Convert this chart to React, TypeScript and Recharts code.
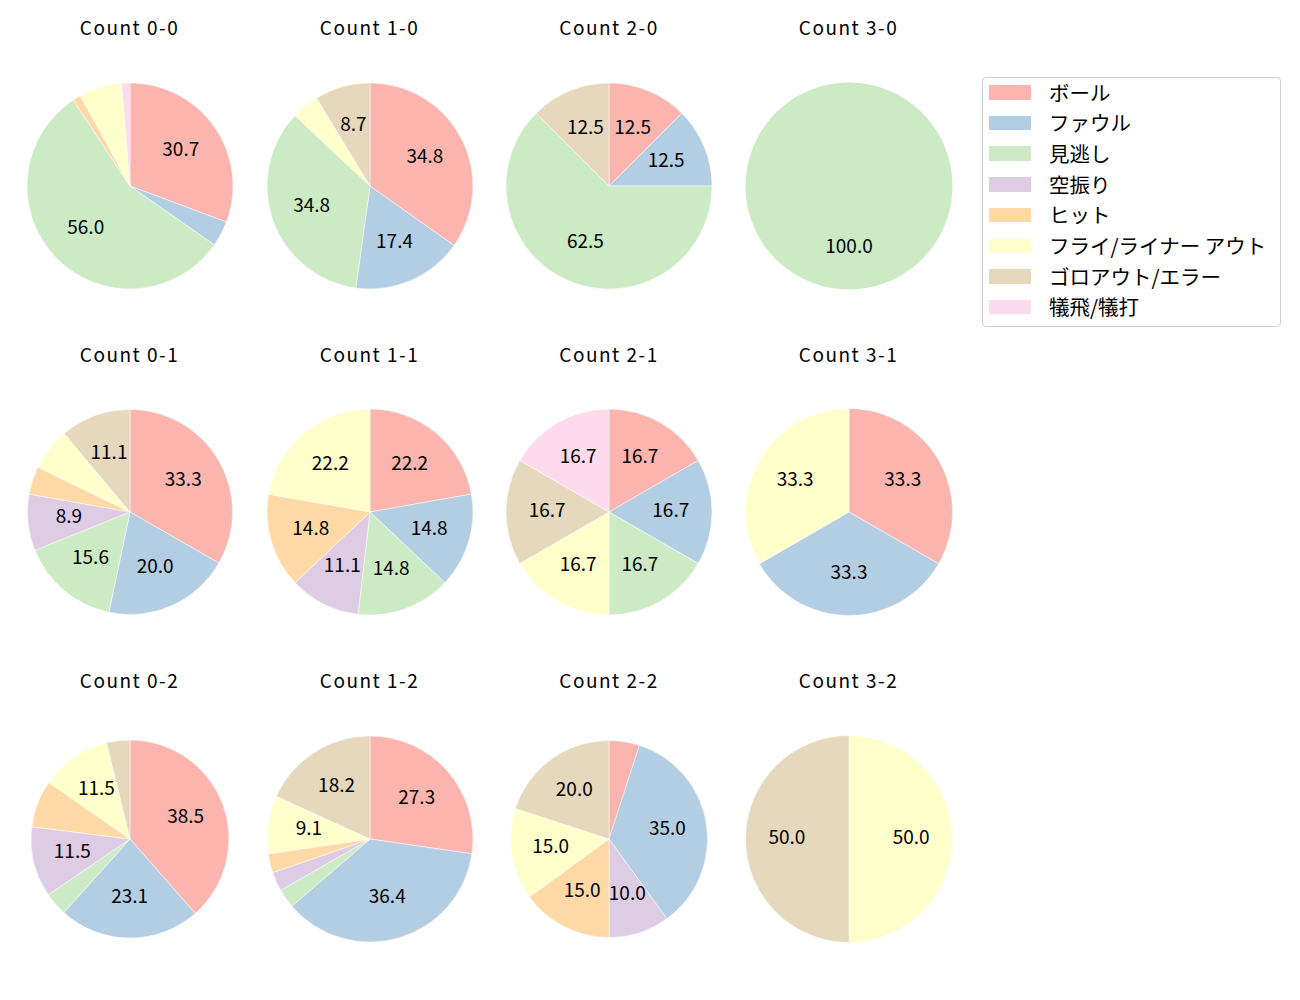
import React from 'react';
import { PieChart, Pie, Cell } from 'recharts';

const categories = ['ボール', 'ファウル', '見逃し', '空振り', 'ヒット', 'フライ/ライナー アウト', 'ゴロアウト/エラー', '犠飛/犠打'];
const colors = ['#fbb4ae', '#b3cde3', '#ccebc5', '#decbe4', '#fed9a6', '#ffffcc', '#e5d8bd', '#fddaec'];

const panelTitles = [
  'Count 0-0', 'Count 1-0', 'Count 2-0', 'Count 3-0',
  'Count 0-1', 'Count 1-1', 'Count 2-1', 'Count 3-1',
  'Count 0-2', 'Count 1-2', 'Count 2-2', 'Count 3-2',
];

// percentages per category (order as categories)
const count00 = [30.7, 4.0, 56.0, 0, 1.3, 6.7, 0, 1.3];
const count10 = [34.8, 17.4, 34.8, 0, 0, 4.3, 8.7, 0];
const count20 = [12.5, 12.5, 62.5, 0, 0, 0, 12.5, 0];
const count30 = [0, 0, 100.0, 0, 0, 0, 0, 0];
const count01 = [33.3, 20.0, 15.6, 8.9, 4.4, 6.7, 11.1, 0];
const count11 = [22.2, 14.8, 14.8, 11.1, 14.8, 22.2, 0, 0];
const count21 = [16.7, 16.7, 16.7, 0, 0, 16.7, 16.7, 16.7];
const count31 = [33.3, 33.3, 0, 0, 0, 33.3, 0, 0];
const count02 = [38.5, 23.1, 3.8, 11.5, 7.7, 11.5, 3.8, 0];
const count12 = [27.3, 36.4, 3.0, 3.0, 3.0, 9.1, 18.2, 0];
const count22 = [5.0, 35.0, 0, 10.0, 15.0, 15.0, 20.0, 0];
const count32 = [0, 0, 0, 0, 0, 50.0, 50.0, 0];

const panelValues = [
  count00, count10, count20, count30,
  count01, count11, count21, count31,
  count02, count12, count22, count32,
];

// layout
const colX = [129.5, 369.5, 609, 848.5];
const rowY = [185.5, 512, 838.5];
const titleY = [28.5, 355.5, 682];
const radii = [103, 103, 103, 103.5, 102.5, 103, 103, 103.5, 99, 103, 98.5, 103.5];
const BOX = 240;
const FONT = '"Noto Sans CJK JP", "Noto Sans", sans-serif';
const RAD = Math.PI / 180;
const LABEL_SIZE = 19;

const renderLabel = (props: any) => {
  const { cx, cy, midAngle, outerRadius, value } = props;
  if (value < 8) return null;
  const r = outerRadius * 0.6;
  const x = cx + r * Math.cos(-midAngle * RAD);
  const y = cy + r * Math.sin(-midAngle * RAD);
  return (
    <text x={x} y={y + 5} textAnchor="middle" fontSize={LABEL_SIZE} fill="#000" fontFamily={FONT}>
      {Number(value).toFixed(1)}
    </text>
  );
};

function Panel({ idx }: { idx: number }) {
  const col = idx % 4;
  const row = Math.floor(idx / 4);
  const cx = colX[col];
  const cy = rowY[row];
  const data = panelValues[idx]
    .map((v, i) => ({ name: categories[i], value: v, color: colors[i] }))
    .filter((d) => d.value > 0);
  const single = data.length === 1;
  return (
    <>
      <div
        style={{
          position: 'absolute',
          left: cx - 120,
          top: titleY[row] - 17,
          width: 240,
          height: 30,
          lineHeight: '30px',
          textAlign: 'center',
          fontFamily: FONT,
          fontSize: 19,
          letterSpacing: 1.5,
          color: '#000',
        }}
      >
        {panelTitles[idx]}
      </div>
      <div style={{ position: 'absolute', left: cx - BOX / 2, top: cy - BOX / 2, width: BOX, height: BOX }}>
        <PieChart width={BOX} height={BOX} margin={{ top: 0, right: 0, bottom: 0, left: 0 }}>
          <Pie
            data={data}
            dataKey="value"
            nameKey="name"
            cx={BOX / 2}
            cy={BOX / 2}
            outerRadius={radii[idx]}
            startAngle={90}
            endAngle={-270}
            stroke={single ? 'none' : '#ffffff'}
            strokeWidth={single ? 0 : 0.5}
            label={renderLabel}
            labelLine={false}
            isAnimationActive={false}
          >
            {data.map((d) => (
              <Cell key={d.name} fill={d.color} stroke={single ? 'none' : '#ffffff'} />
            ))}
          </Pie>
        </PieChart>
      </div>
    </>
  );
}

export default function App() {
  return (
    <div style={{ position: 'absolute', left: 0, top: 0, width: 1300, height: 1000, background: '#fff', fontFamily: FONT }}>
      {panelTitles.map((_, i) => (
        <Panel key={i} idx={i} />
      ))}
      <div
        style={{
          position: 'absolute',
          left: 982,
          top: 77,
          width: 297,
          height: 248,
          border: '1px solid #cfcfcf',
          borderRadius: 4,
          background: '#fff',
        }}
      >
        {categories.map((c, i) => (
          <div key={c} style={{ position: 'absolute', left: 0, top: 0 }}>
            <div
              style={{
                position: 'absolute',
                left: 6,
                top: 7 + i * 30.7,
                width: 42,
                height: 14.5,
                background: colors[i],
              }}
            />
            <div
              style={{
                position: 'absolute',
                left: 66,
                top: i * 30.7 - 1.5,
                height: 30,
                lineHeight: '30px',
                whiteSpace: 'nowrap',
                fontSize: 20.5,
                color: '#000',
              }}
            >
              {c}
            </div>
          </div>
        ))}
      </div>
    </div>
  );
}
